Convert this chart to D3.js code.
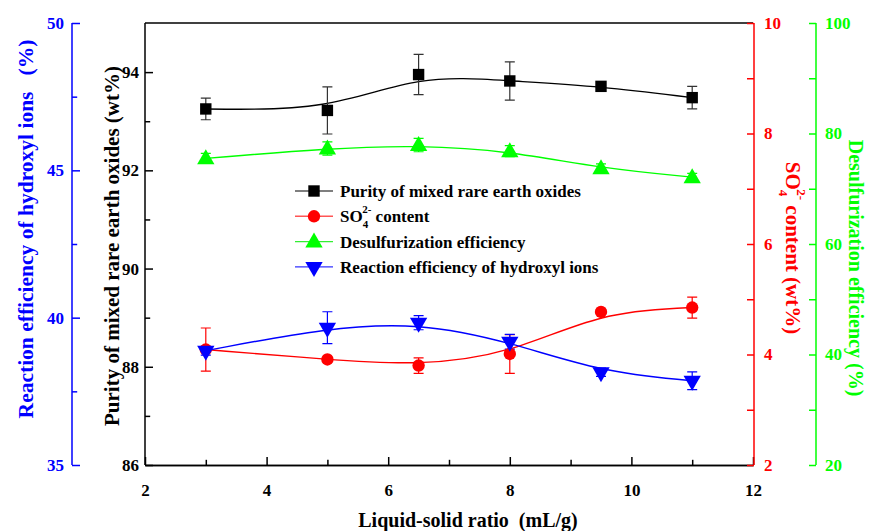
<!DOCTYPE html>
<html><head><meta charset="utf-8">
<script src="https://cdn.jsdelivr.net/npm/d3@7"></script>
<style>body{margin:0;background:#fff}svg{display:block}text{font-family:"Liberation Serif","Times New Roman",serif;font-weight:bold;white-space:pre}</style>
</head><body><svg id="c" width="870" height="531"></svg>
<script>
const ratio = [3, 5, 6.5, 8, 9.5, 11];
const purity = [93.25, 93.22, 93.95, 93.82, 93.71, 93.48];
const purityErr = [0.22, 0.48, 0.41, 0.39, 0.05, 0.23];
const so4 = [4.09, 3.91, 3.80, 4.01, 4.77, 4.85];
const so4Err = [0.39, 0.04, 0.14, 0.35, 0.04, 0.19];
const desulf = [75.5, 77.3, 77.9, 76.8, 73.7, 72.1];
const desulfErr = [0.9, 1.2, 1.2, 1.0, 0.8, 0.7];
const hydroxyl = [38.88, 39.66, 39.83, 39.18, 38.15, 37.86];
const hydroxylErr = [0.15, 0.54, 0.24, 0.25, 0.14, 0.30];
const legendLabels = ["Purity of mixed rare earth oxides", "SO4 content", "Desulfurization efficiency", "Reaction efficiency of hydroxyl ions"];

const svg = d3.select("#c");
const L = 145, R = 753, T = 23, B = 465;
const FS = 17;
const x = d3.scaleLinear().domain([2, 12]).range([L, R]);
const yP = d3.scaleLinear().domain([86, 95]).range([B, T]);
const yS = d3.scaleLinear().domain([2, 10]).range([B, T]);
const yD = d3.scaleLinear().domain([20, 100]).range([B, T]);
const yH = d3.scaleLinear().domain([35, 50]).range([B, T]);

function styleAxis(g, color, size) {
  g.selectAll("path,line").attr("stroke", color).attr("stroke-width", 1.5);
  g.selectAll("text").attr("fill", color).style("font-size", size + "px");
}
function axisWithMinor(axisFn, scale, major, minor, len, fmt) {
  return [axisFn(scale).tickValues(major).tickSize(len).tickSizeOuter(0).tickFormat(fmt || d3.format("d")),
          axisFn(scale).tickValues(minor).tickSize(len * 0.65).tickSizeOuter(0).tickFormat("")];
}
// bottom axis
{
  const [a, m] = axisWithMinor(d3.axisTop, x, [2,4,6,8,10,12], [3,5,7,9,11], 8);
  const g = svg.append("g").attr("transform", `translate(0,${B})`).call(a);
  g.selectAll("text").attr("y", 25).attr("dy", "0.35em");
  styleAxis(g, "#000", FS);
  const g2 = svg.append("g").attr("transform", `translate(0,${B})`).call(m);
  styleAxis(g2, "#000", FS);
}
svg.append("line").attr("x1", L).attr("x2", R).attr("y1", T).attr("y2", T).attr("stroke", "#000").attr("stroke-width", 1.5);
// left black axis
{
  const [a, m] = axisWithMinor(d3.axisRight, yP, [86,88,90,92,94], [87,89,91,93], 8);
  const g = svg.append("g").attr("transform", `translate(${L},0)`).call(a);
  g.selectAll("text").attr("x", -6).attr("text-anchor", "end");
  styleAxis(g, "#000", FS);
  g.select(".domain").remove();
  const g2 = svg.append("g").attr("transform", `translate(${L},0)`).call(m);
  styleAxis(g2, "#000", FS);
  g2.select(".domain").attr("d", `M0,${T}V${B}`);
}
// blue axis
{
  const bx = 72;
  const [a, m] = axisWithMinor(d3.axisRight, yH, [35,40,45,50], [37.5,42.5,47.5], 8);
  const g = svg.append("g").attr("transform", `translate(${bx},0)`).call(a);
  g.selectAll("text").attr("x", -8).attr("text-anchor", "end");
  styleAxis(g, "#0000ff", FS);
  g.select(".domain").attr("d", `M0,${T}V${B}`);
  const g2 = svg.append("g").attr("transform", `translate(${bx},0)`).call(m);
  styleAxis(g2, "#0000ff", FS);
  g2.select(".domain").remove();
  g.selectAll(".tick line").attr("x2", 8);
}
// red axis
{
  const [a, m] = axisWithMinor(d3.axisLeft, yS, [2,4,6,8,10], [3,5,7,9], 7);
  const g = svg.append("g").attr("transform", `translate(${R+1},0)`).call(a);
  g.selectAll("text").attr("x", 10).attr("text-anchor", "start");
  styleAxis(g, "#ff0000", FS);
  g.select(".domain").attr("d", `M0,${T}V${B}`);
  const g2 = svg.append("g").attr("transform", `translate(${R+1},0)`).call(m);
  styleAxis(g2, "#ff0000", FS);
  g2.select(".domain").remove();
  g2.selectAll(".tick line").attr("x2", -7);
}
// green axis
{
  const gx = 816;
  const [a, m] = axisWithMinor(d3.axisLeft, yD, [20,40,60,80,100], [30,50,70,90], 7);
  const g = svg.append("g").attr("transform", `translate(${gx},0)`).call(a);
  g.selectAll("text").attr("x", 9).attr("text-anchor", "start");
  styleAxis(g, "#00ff00", FS);
  g.select(".domain").attr("d", `M0,${T}V${B}`);
  const g2 = svg.append("g").attr("transform", `translate(${gx},0)`).call(m);
  styleAxis(g2, "#00ff00", FS);
  g2.select(".domain").remove();
  g2.selectAll(".tick line").attr("x2", -7);
}
// axis titles
svg.append("text").attr("transform", `translate(468,527)`).attr("text-anchor", "middle")
  .style("font-size", "20px").attr("fill", "#000").text("Liquid-solid ratio  (mL/g)");
svg.append("text").attr("transform", "translate(119,246) rotate(-90)").attr("text-anchor", "middle")
  .style("font-size", "21px").attr("fill", "#000").text("Purity of mixed rare earth oxides (wt%)");
svg.append("text").attr("transform", "translate(33,229) rotate(-90)").attr("text-anchor", "middle")
  .style("font-size", "21.5px").attr("fill", "#0000ff").text("Reaction efficiency of hydroxyl ions   (%)");
{
  const t = svg.append("text").attr("transform", "translate(786,248) rotate(90)").attr("text-anchor", "middle")
    .style("font-size", "21px").attr("fill", "#ff0000");
  t.append("tspan").text("SO");
  t.append("tspan").attr("dy", 7).style("font-size", "13px").text("4");
  t.append("tspan").attr("dy", -18).attr("dx", -7).style("font-size", "13px").text("2-");
  t.append("tspan").attr("dy", 11).text(" content (wt%)");
}
svg.append("text").attr("transform", "translate(849,268) rotate(90)").attr("text-anchor", "middle")
  .style("font-size", "20px").attr("fill", "#00ff00").text("Desulfurization efficiency (%)");

// series
const series = [
  {v: purity, e: purityErr, y: yP, c: "#000000", lc: "#555", sym: "sq", errc: "#333"},
  {v: so4, e: so4Err, y: yS, c: "#ff0000", lc: "#ff5555", sym: "ci", errc: "#ff0000"},
  {v: desulf, e: desulfErr, y: yD, c: "#00ff00", lc: "#33ee33", sym: "up", errc: "#00ff00"},
  {v: hydroxyl, e: hydroxylErr, y: yH, c: "#0000ff", lc: "#3333ff", sym: "dn", errc: "#0000ff"}
];
const symGen = {
  sq: d3.symbol().type(d3.symbolSquare).size(130),
  ci: d3.symbol().type(d3.symbolCircle).size(120),
  up: d3.symbol().type(d3.symbolTriangle).size(130),
  dn: d3.symbol().type(d3.symbolTriangle).size(130)
};
function drawSym(g, s, cx, cy) {
  g.append("path").attr("d", symGen[s.sym]()).attr("fill", s.c)
    .attr("transform", `translate(${cx},${cy})` + (s.sym === "dn" ? " rotate(180)" : "") + (s.sym === "up" ? " translate(0,1)" : ""));
}
const lineG = svg.append("g"), errG = svg.append("g"), markG = svg.append("g");
series.forEach(s => {
  const pts = ratio.map((r, i) => [x(r), s.y(s.v[i])]);
  lineG.append("path").attr("d", d3.line().curve(d3.curveBasis)(pts)).attr("fill", "none")
    .attr("stroke", s.c).attr("stroke-width", 1.4);
  ratio.forEach((r, i) => {
    const cx = x(r), y1 = s.y(s.v[i] + s.e[i]), y2 = s.y(s.v[i] - s.e[i]);
    errG.append("path").attr("d", `M${cx},${y1}V${y2}M${cx-5},${y1}H${cx+5}M${cx-5},${y2}H${cx+5}`)
      .attr("stroke", s.errc).attr("stroke-width", 1.2).attr("fill", "none");
  });
});
series.forEach(s => ratio.forEach((r, i) => drawSym(markG, s, x(r), s.y(s.v[i]))));

// legend
const leg = svg.append("g");
series.forEach((s, i) => {
  const yy = 191 + i * 25.3;
  leg.append("line").attr("x1", 295).attr("x2", 333).attr("y1", yy).attr("y2", yy).attr("stroke", s.lc).attr("stroke-width", 1.4);
  drawSym(leg, s, 314, yy);
  const t = leg.append("text").attr("x", 340).attr("y", yy).attr("dy", "0.35em").style("font-size", "17px").attr("fill", "#000");
  if (i === 1) {
    t.append("tspan").text("SO");
    t.append("tspan").attr("dy", 6).style("font-size", "11px").text("4");
    t.append("tspan").attr("dy", -15).attr("dx", -6).style("font-size", "11px").text("2-");
    t.append("tspan").attr("dy", 9).text(" content");
  } else t.text(legendLabels[i]);
});
</script></body></html>
